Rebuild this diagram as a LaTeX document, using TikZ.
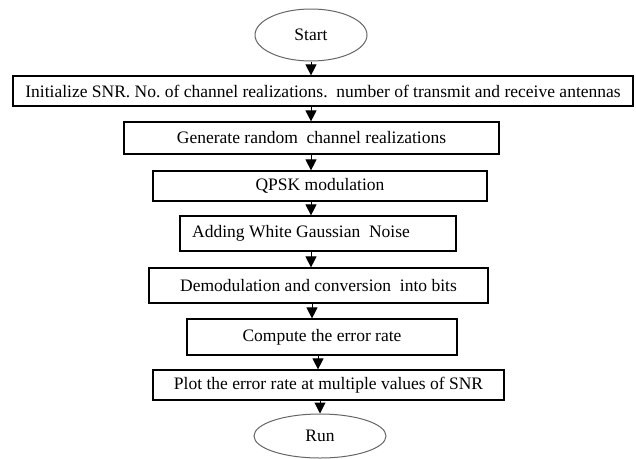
\documentclass[tikz,border=0pt]{standalone}
\usepackage{fontspec}
\setmainfont{Liberation Serif}
\usetikzlibrary{arrows.meta,shapes.geometric}
\begin{document}
\begin{tikzpicture}[x=1pt,y=-1pt,
  box/.style={draw=black, line width=1.2pt, inner sep=0pt, font=\fontsize{17.5}{20}\selectfont},
  term/.style={ellipse, draw=black!60, line width=1pt, inner sep=0pt, font=\fontsize{17.5}{20}\selectfont},
  arr/.style={-{Triangle[length=11pt,width=11pt]}, line width=1pt, draw=black}]
\useasboundingbox (0,0) rectangle (636,458);
\fill[white] (0,0) rectangle (636,458);
\node[term, minimum width=112pt, minimum height=52pt] (start) at (311,35) {Start};
\node[box, minimum width=620pt, minimum height=30pt] (init) at (323,91) {Initialize SNR.\ No.\ of channel realizations.\ \ number of transmit and receive antennas};
\node[box, minimum width=375pt, minimum height=32pt] (gen) at (311.5,138) {Generate random\ \ channel realizations};
\node[box, minimum width=334pt, minimum height=30pt] (qpsk) at (320,186) {QPSK modulation};
\node[box, minimum width=276pt, minimum height=35pt] (awgn) at (318,233.5) {Adding White Gaussian\ \ Noise\hspace*{34pt}};
\node[box, minimum width=339pt, minimum height=35pt] (demod) at (318.5,285.5) {Demodulation and conversion\ \ into bits};
\node[box, minimum width=270pt, minimum height=36pt] (comp) at (322,337) {Compute the error rate};
\node[box, minimum width=351pt, minimum height=30pt] (plot) at (328.5,385) {Plot the error rate at multiple values of SNR};
\node[term, minimum width=132pt, minimum height=44pt] (run) at (320,436) {Run};

\draw[arr] (start.south) -- (start.south |- init.north);
\draw[arr] (start.south |- init.south) -- (start.south |- gen.north);
\draw[arr] (start.south |- gen.south) -- (start.south |- qpsk.north);
\draw[arr] (start.south |- qpsk.south) -- (start.south |- awgn.north);
\draw[arr] (start.south |- awgn.south) -- (start.south |- demod.north);
\draw[arr] ([xshift=1pt]start.south |- demod.south) -- ([xshift=1pt]start.south |- comp.north);
\draw[arr] ([xshift=-4pt]comp.south) -- ([xshift=-4pt]comp.south |- plot.north);
\draw[arr] (run.north |- plot.south) -- (run.north);
\end{tikzpicture}
\end{document}
